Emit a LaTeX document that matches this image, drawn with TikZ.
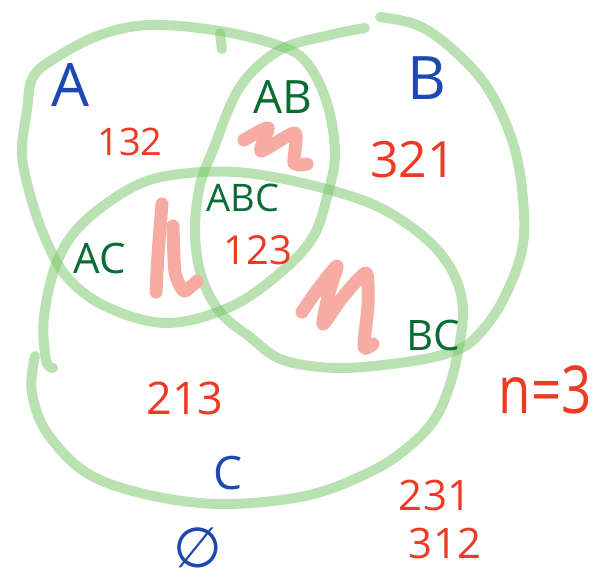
\documentclass[tikz,border=0pt]{standalone}
\usepackage{fontspec}
\setmainfont{Open Sans}
\newfontfamily\symbfont{DejaVu Sans}
\usetikzlibrary{positioning}

\definecolor{ringgreen}{RGB}{118,196,102}
\definecolor{setblue}{RGB}{28,72,178}
\definecolor{regiongreen}{RGB}{8,108,52}
\definecolor{numred}{RGB}{236,58,36}
\definecolor{scribred}{RGB}{246,172,162}

\begin{document}
\begin{tikzpicture}[x=1pt, y=-1pt,
    ring/.style={draw=ringgreen, opacity=0.5, line width=10pt, line cap=round, line join=round},
    scrib/.style={draw=scribred, line width=13pt, line cap=round, line join=round},
    setlbl/.style={inner sep=0pt, text=setblue, font=\fontsize{#1}{#1}\selectfont},
    regionlbl/.style={inner sep=0pt, text=regiongreen, font=\fontsize{#1}{#1}\selectfont},
    numlbl/.style={inner sep=0pt, text=numred, font=\fontsize{#1}{#1}\selectfont}
]
\useasboundingbox (0,0) rectangle (605,580);

% set A
\draw[ring] plot[smooth cycle, tension=0.6] coordinates {
    (220,31) (280,46) (307,63) (327,103) (335,153) (328,193) (313,237)
    (280,273) (230,307) (167,323) (107,307) (67,277) (43,233) (27,183)
    (22,150) (27,110) (33,77) (57,57) (100,35) (150,25)};
\draw[ring] (220,33) -- (222,49);
% set B
\draw[ring] plot[smooth, tension=0.6] coordinates {
    (380,17) (417,25) (450,47) (487,87) (513,143) (523,200) (522,250)
    (503,300) (480,333) (457,350) (413,361) (340,368) (283,360) (250,337)
    (220,312) (201,275) (195,230) (200,185) (213,150) (240,87) (280,50)
    (330,35) (365,28)};
% set C
\draw[ring] plot[smooth, tension=0.6] coordinates {
    (35,356) (32,393) (50,437) (100,480) (200,503) (300,497) (370,472)
    (413,443) (440,410) (457,357) (462,300) (440,253) (390,213) (330,190)
    (247,173) (180,174) (133,187) (83,223) (57,262) (44,317) (46,360) (53,368)};

% scribbles
\draw[scrib] plot[smooth, tension=0.4] coordinates {
    (244,140) (268,128) (261,151) (295,133) (294,163) (307,164)};
\draw[scrib] plot[smooth, tension=0.4] coordinates {
    (162,204) (158,255) (156,292)};
\draw[scrib] plot[smooth, tension=0.4] coordinates {
    (173,226) (175,272) (184,291) (197,281)};
\draw[scrib] plot[smooth, tension=0.4] coordinates {
    (302,312) (318,289) (337,266) (329,293) (323,324) (342,298) (366,273)
    (368,305) (364,347) (373,344)};

% set names
\node[setlbl=60] (nameA) at (70,85) {A};
\node[setlbl=60] (nameB) at (427,78) {B};
\node[setlbl=46] (nameC) at (228,473) {C};
\node[setlbl=56] (empty) at (198,548) {\symbfont ∅};

% regions
\node[regionlbl=46] (regAB) at (283,97) {AB};
\node[regionlbl=38] (regABC) at (243,198) {ABC};
\node[regionlbl=42] (regAC) at (100,258) {AC};
\node[regionlbl=42] (regBC) at (433,335) {BC};

% permutations
\node[numlbl=38] (p132) at (130,142) {132};
\node[numlbl=50] (p321) at (413,160) {321};
\node[numlbl=40] (p123) at (258,250) {123};
\node[numlbl=45] (p213) at (185,398) {213};
\node[numlbl=42] (p231) at (435,495) {231};
\node[numlbl=42] (p312) at (445,543) {312};
\node[numlbl=66, xscale=0.8] (size) at (545,390) {n=3};
\end{tikzpicture}
\end{document}
